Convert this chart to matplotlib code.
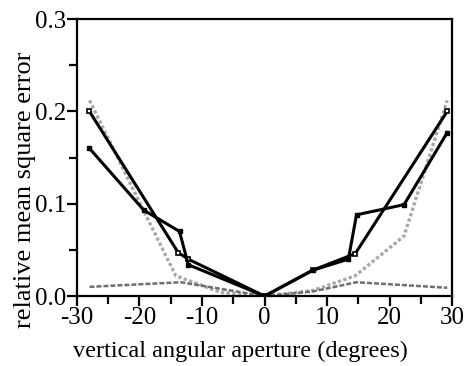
import numpy as np
import matplotlib
matplotlib.use('Agg')
import matplotlib.pyplot as plt
from matplotlib.ticker import MultipleLocator, FormatStrFormatter

# series
xa = [-28, -13.8, -12.2, 0, 7.7, 14.5, 29.2]
ya = [0.200, 0.047, 0.040, 0.0, 0.028, 0.046, 0.200]

xb = [-28, -19.3, -13.6, -12.2, 0, 7.7, 13.4, 14.7, 22.3, 29.2]
yb = [0.160, 0.093, 0.070, 0.034, 0.0, 0.028, 0.040, 0.088, 0.099, 0.177]

xc = [-28, -19.3, -14.2, -7, 0, 7.7, 14.5, 22.3, 29.2]
yc = [0.212, 0.092, 0.022, 0.004, 0.0, 0.006, 0.022, 0.065, 0.212]

xd = [-28, -13.4, 0, 7.7, 14.7, 29.2]
yd = [0.010, 0.015, 0.0, 0.005, 0.015, 0.009]

plt.rcParams['font.family'] = ['Liberation Serif', 'DejaVu Serif']
plt.rcParams['axes.unicode_minus'] = False

fig = plt.figure(figsize=(4.75, 3.66), dpi=100)
ax = fig.add_axes([0.162, 0.191, 0.790, 0.757])

ax.plot(xc, yc, color='#a9a9a9', lw=2.4, ls=(0, (1, 0.7)), zorder=2)
ax.plot(xd, yd, color='#6e6e6e', lw=1.8, ls=(0, (2, 0.8)), zorder=2)
ax.plot(xa, ya, color='black', lw=2.2, marker='s', ms=3, mfc='white', mew=1.2, zorder=3)
ax.plot(xb, yb, color='black', lw=2.2, marker='s', ms=3, zorder=3)

ax.set_xlim(-30, 30)
ax.set_ylim(0, 0.3)
ax.xaxis.set_major_locator(MultipleLocator(10))
ax.xaxis.set_minor_locator(MultipleLocator(5))
ax.yaxis.set_major_locator(MultipleLocator(0.1))
ax.yaxis.set_minor_locator(MultipleLocator(0.05))
ax.yaxis.set_major_formatter(FormatStrFormatter('%.1f'))
ax.xaxis.set_major_formatter(FormatStrFormatter('%d'))

for s in ax.spines.values():
    s.set_linewidth(1.6)
ax.tick_params(which='both', direction='out', width=1.6, labelsize=18, pad=1)
ax.tick_params(which='major', length=7)
ax.tick_params(which='minor', length=6)

ax.set_xlabel('vertical angular aperture (degrees)', fontsize=17.5)
ax.set_ylabel('relative mean square error', fontsize=19)
ax.xaxis.set_label_coords(0.435, -0.162)
ax.yaxis.set_label_coords(-0.11, 0.383)

fig.savefig('out.png', dpi=100)
